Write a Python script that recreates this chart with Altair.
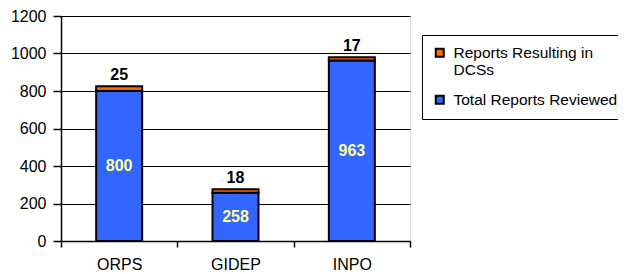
import altair as alt
import pandas as pd

categories = ["ORPS", "GIDEP", "INPO"]
total_reviewed = [800, 258, 963]
resulting_dcs = [25, 18, 17]
series_names = ["Reports Resulting in DCSs", "Total Reports Reviewed"]
series_colors = ["#FF6600", "#3366FF"]
y_ticks = [0, 200, 400, 600, 800, 1000, 1200]

rows = []
for c, t, d in zip(categories, total_reviewed, resulting_dcs):
    rows.append({"cat": c, "series": series_names[1], "value": t, "ord": 0})
    rows.append({"cat": c, "series": series_names[0], "value": d, "ord": 1})
df = pd.DataFrame(rows)

lab = pd.DataFrame({
    "cat": categories,
    "total": total_reviewed,
    "dcs": resulting_dcs,
})
lab["top"] = lab["total"] + lab["dcs"]
lab["mid"] = lab["total"] / 2

FONT = "Liberation Sans"

x_axis = alt.Axis(labelAngle=0, labelFont=FONT, labelFontSize=16, labelColor="black",
                  domainColor="black", domainWidth=1.5, tickColor="black",
                  tickBand="extent", tickSize=6, tickWidth=1.5, labelPadding=9)
y_axis = alt.Axis(values=y_ticks, format="d", labelOverlap=False,
                  labelFont=FONT, labelFontSize=16, labelColor="black",
                  domainColor="black", domainWidth=1.5, tickColor="black", tickSize=8,
                  tickWidth=1.5, gridColor="black", gridWidth=1, labelPadding=7)
x_scale = alt.Scale(paddingInner=0, paddingOuter=0)
y_scale = alt.Scale(domain=[0, 1200], nice=False)

bars = alt.Chart(df).mark_bar(size=46, stroke="black", strokeWidth=2).encode(
    x=alt.X("cat:N", sort=categories, title=None, scale=x_scale, axis=x_axis),
    y=alt.Y("value:Q", stack="zero", scale=y_scale, title=None, axis=y_axis),
    color=alt.Color("series:N", title=None,
                    scale=alt.Scale(domain=series_names, range=series_colors),
                    legend=alt.Legend(
                        orient="none", legendX=361, legendY=19,
                        fillColor="white", strokeColor="black",
                        padding=10, rowPadding=12,
                        symbolType="square", symbolSize=64, symbolStrokeColor="black",
                        symbolStrokeWidth=2, symbolOpacity=1,
                        labelFont=FONT, labelFontSize=15.5, labelColor="black", labelLimit=400,
                        labelOffset=6,
                        labelExpr="datum.label == 'Reports Resulting in DCSs' ? ['Reports Resulting in', 'DCSs'] : datum.label",
                    )),
    order=alt.Order("ord:Q"),
)

top_text = alt.Chart(lab).mark_text(font=FONT, fontSize=16, fontWeight="bold", color="black",
                                     dy=-11).encode(
    x=alt.X("cat:N", sort=categories, title=None, scale=x_scale, axis=x_axis),
    y=alt.Y("top:Q", scale=y_scale, title=None, axis=y_axis),
    text="dcs:Q",
)

mid_text = alt.Chart(lab).mark_text(font=FONT, fontSize=16, fontWeight="bold", color="#FFFF99").encode(
    x=alt.X("cat:N", sort=categories, title=None, scale=x_scale, axis=x_axis),
    y=alt.Y("mid:Q", scale=y_scale, title=None, axis=y_axis),
    text="total:Q",
)

chart = alt.layer(bars, top_text, mid_text).properties(
    width=349, height=225,
    autosize=alt.AutoSizeParams(type="none"),
    padding={"left": 53, "top": 8, "right": 208, "bottom": 31},
).configure_view(stroke="#808080", strokeWidth=1.5).configure_legend(strokeWidth=1.5).configure(background="white")

chart.save("out.html", embed_options={"renderer": "svg", "actions": False})
